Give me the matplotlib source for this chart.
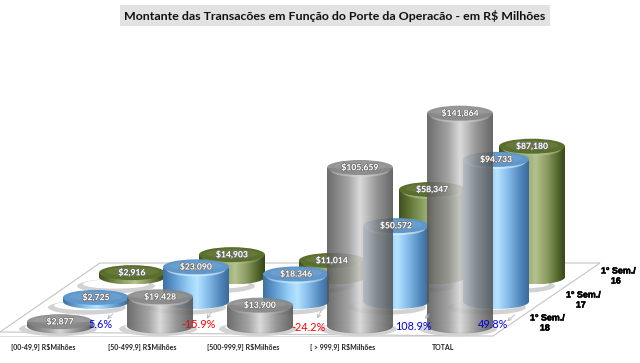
import numpy as np
import matplotlib
matplotlib.use('Agg')
import matplotlib.pyplot as plt
import matplotlib.patheffects as pe
from matplotlib.colors import LinearSegmentedColormap
from matplotlib.patches import Ellipse, Polygon, Rectangle

categories = ['[00-49,9] R$Milhões', '[50-499,9] R$Milhões', '[500-999,9] R$Milhões',
              '[ > 999,9] R$Milhões', 'TOTAL']
semesters = ['1° Sem./\n    16', '1° Sem./\n    17', '1° Sem./\n    18']
sem16 = [2916, 14903, 11014, 58347, 87180]
sem17 = [2725, 23090, 18346, 50572, 94733]
sem18 = [2877, 19428, 13900, 105659, 141864]
changes = ['5.6%', '-15.9%', '-24.2%', '108.9%', '49.8%']
title = 'Montante das Transacões em Função do Porte da Operacão - em R$ Milhões'

# axes units: x = category number, y = R$ milhoes (about 100 px per category, 0.0015 px per unit)
PX_X = 0.01
PX_Y = 1 / 0.0015

fig = plt.figure(figsize=(6.4, 3.63), dpi=100)
ax = fig.add_axes([0, 0, 1, 1])
ax.axis('off')
xlim = (-0.6, 5.8)
ylim = (-37 * PX_Y, 326 * PX_Y)


def px(x, y):
    # picture pixel to data
    return xlim[0] + x * PX_X, ylim[1] - y * PX_Y


grey_cm = LinearSegmentedColormap.from_list('g', [(0, '#585858'), (0.14, '#737373'), (0.32, '#979797'),
                                                  (0.5, '#d6d6d6'), (0.6, '#b8b8b8'), (0.76, '#868686'),
                                                  (1, '#525252')])
blue_cm = LinearSegmentedColormap.from_list('b', [(0, '#3f70a3'), (0.15, '#5a95cc'), (0.38, '#95cdf5'),
                                                  (0.52, '#b5e3ff'), (0.68, '#86bdea'), (0.88, '#4f86ba'),
                                                  (1, '#3a6a9a')])
green_cm = LinearSegmentedColormap.from_list('v', [(0, '#3f5020'), (0.15, '#5f7434'), (0.38, '#94a76c'),
                                                   (0.55, '#b4c18f'), (0.72, '#8b9c62'), (0.9, '#4f6228'),
                                                   (1, '#34451a')])

series = [
    (sem16, 2, green_cm, '#5b6f2c', '#b9c495', 1.0),
    (sem17, 1, blue_cm, '#5f97cb', '#e4f3ff', 1.0),
    (sem18, 0, grey_cm, '#858585', '#d0d0d0', 0.88),
]
RX = 33 * PX_X
RY = 7.5 * PX_Y
DEPTH_X = 0.36
DEPTH_Y = 24.5 * PX_Y
grad = np.linspace(0, 1, 128).reshape(1, -1)


def shadow(cx, cy, depth):
    sx = cx + (-2 - 7 * depth) * PX_X
    sy = cy - (3 + 3 * depth) * PX_Y
    ax.add_patch(Ellipse((sx, sy), 2 * RX * 1.18, 2 * RY * 0.95, fc='#d2d2d2', ec='none', zorder=2))
    ax.add_patch(Ellipse((sx, sy + 2 * PX_Y), 2 * RX * 1.0, 2 * RY * 0.62, fc='white', ec='none', zorder=2))


def cylinder(cx, cy, value, cmap, top_col, rim_col, alpha, z):
    t = np.linspace(np.pi, 2 * np.pi, 60)
    top = cy + value
    pts = [(cx - RX, top)] + list(zip(cx + RX * np.cos(t), cy + RY * np.sin(t))) + [(cx + RX, top)]
    body = Polygon(pts, closed=True, fc='none', ec='none', transform=ax.transData, zorder=z)
    ax.add_patch(body)
    im = ax.imshow(grad, cmap=cmap, extent=(cx - RX, cx + RX, cy - RY, top), aspect='auto',
                   alpha=alpha, zorder=z, interpolation='bilinear')
    im.set_clip_path(body)
    # light rim under the top face, not on the flat discs
    rim = 0.6 * min(1, value / 20000) ** 2
    ax.add_patch(Ellipse((cx, top - 2.5 * PX_Y), 2 * RX * 0.9, 2 * RY * 0.95, fc=rim_col, ec='none',
                         alpha=rim * alpha, zorder=z))
    ax.add_patch(Ellipse((cx, top), 2 * RX, 2 * RY, fc=top_col, ec='none', alpha=alpha, zorder=z))
    ax.add_patch(Ellipse((cx, top + 1 * PX_Y), 2 * RX * 0.8, 2 * RY * 0.6, fc='white', ec='none',
                         alpha=0.07, zorder=z))


# floor
floor = [px(0, 332), px(100, 263), px(600, 263), px(493, 336)]
ax.add_patch(Polygon(floor, closed=True, fc='white', ec='#c4c4c4', lw=0.8, zorder=1))
x0, y0 = px(0, 337)
ax.add_patch(Rectangle((x0, y0), 493 * PX_X, 1.5 * PX_Y, fc='#dcdcdc', ec='none', zorder=1))

for values, depth, cmap, top_col, rim_col, alpha in series:
    for i, v in enumerate(values):
        shadow(i + DEPTH_X * depth, DEPTH_Y * depth, depth)

label_fx = [pe.withStroke(linewidth=0.9, foreground='#6a6a6a')]
z = 3
for values, depth, cmap, top_col, rim_col, alpha in series:
    for i, v in enumerate(values):
        cylinder(i + DEPTH_X * depth, DEPTH_Y * depth, v, cmap, top_col, rim_col, alpha, z)
        z += 1

for values, depth, cmap, top_col, rim_col, alpha in series:
    for i, v in enumerate(values):
        ax.text(i + DEPTH_X * depth, DEPTH_Y * depth + v, f'${v:,}', color='white', fontsize=6.2,
                family='Lato', weight='black', ha='center', va='center', path_effects=label_fx, zorder=50)

ax.set_xlim(xlim)
ax.set_ylim(ylim)

# change labels and small arrows
change_x = [100, 198, 308, 413, 493]
change_y = [325, 325, 327, 326, 325]
arrow_from = [(115, 312), (213, 310), (323, 307), (431, 312), (517, 313)]
arrow_to = [(105, 321), (205, 321), (316, 321), (423, 321), (505, 323)]
for i, c in enumerate(changes):
    col = 'red' if c.startswith('-') else '#0000e0'
    ax.annotate('', xy=px(*arrow_to[i]), xytext=px(*arrow_from[i]), zorder=51,
                arrowprops=dict(arrowstyle='->', color='#b5b5b5', lw=0.6, mutation_scale=6))
    ax.text(*px(change_x[i], change_y[i]), c, color=col, fontsize=7.8, family='Lato', ha='center', va='center',
            zorder=52)

# category labels
cat_x = [11, 108, 207, 310, 432]
for i, c in enumerate(categories):
    ax.text(*px(cat_x[i], 347), c, fontsize=5.0, family='Lato', weight='bold', color='#222222',
            ha='left', va='center')

# depth labels
sem_x = [601, 566, 530]
sem_y = [276, 300, 323]
for i, s in enumerate(semesters):
    ax.text(*px(sem_x[i], sem_y[i]), s, fontsize=6.4, family='Liberation Sans', weight='bold',
            color='black', ha='left', va='center', linespacing=1.15,
            path_effects=[pe.withStroke(linewidth=0.4, foreground='black')])

ax.text(*px(124, 15.5), title, fontsize=8.9, family='Lato', weight='bold', color='#111111', ha='left', va='center',
        bbox=dict(fc='#e2e2e2', ec='none', pad=3))

fig.savefig('out.png', dpi=100)
